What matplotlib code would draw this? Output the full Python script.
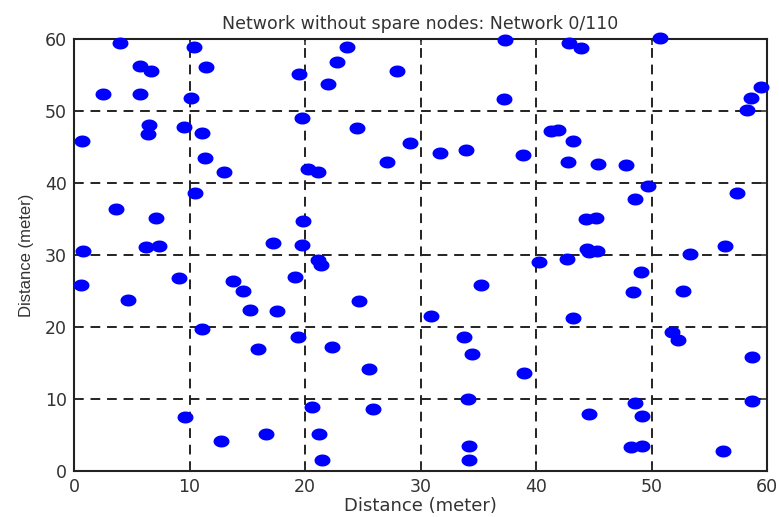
import numpy as np
import matplotlib
matplotlib.use('Agg')
import matplotlib.pyplot as plt
from matplotlib.path import Path

plt.rcParams['font.family'] = ['DejaVu Sans']

# node positions (meter)
x_nodes = [4.0, 5.7, 6.7, 2.5, 5.7, 10.4, 11.4, 10.1, 19.5, 23.6, 22.8, 22.0, 28.0, 19.7,
           0.7, 6.5, 6.4, 9.5, 11.1, 11.3, 13.0, 24.5, 29.1, 27.1, 20.3, 21.1, 10.5, 3.6,
           7.1, 19.8, 0.8, 6.25, 7.4, 17.2, 19.7, 21.1,
           21.35, 0.6, 4.7, 9.1, 13.8, 14.6, 15.2, 17.6, 19.1, 24.7, 11.1, 15.9, 19.4, 22.3,
           25.5, 9.6, 20.6, 25.9, 12.7, 16.6, 21.2, 21.5,
           37.3, 42.9, 43.9, 50.7, 37.2, 59.5, 58.6, 58.3, 31.7, 33.9, 38.9, 41.3, 41.9,
           43.2, 42.8, 45.4, 47.8, 49.7, 48.6, 57.4, 44.3, 45.2, 44.4, 44.6, 45.3, 40.3,
           42.7, 53.3, 56.4,
           35.2, 30.9, 43.2, 49.1, 48.4, 52.75, 51.8, 52.3, 58.7, 33.8, 34.5, 39.0, 34.1,
           58.7, 48.6, 49.2, 44.6, 34.2, 34.2, 48.2, 49.2, 56.2]
y_nodes = [59.5, 56.3, 55.6, 52.4, 52.4, 58.9, 56.1, 51.8, 55.2, 58.9, 56.8, 53.8, 55.6, 49.0,
           45.8, 48.1, 46.8, 47.8, 46.9, 43.5, 41.5, 47.6, 45.5, 42.9, 41.9, 41.5, 38.6, 36.4,
           35.1, 34.7, 30.5, 31.1, 31.3, 31.7, 31.4, 29.3,
           28.6, 25.9, 23.75, 26.8, 26.4, 25.0, 22.4, 22.2, 27.0, 23.6, 19.7, 16.9, 18.65, 17.2,
           14.1, 7.5, 8.9, 8.6, 4.2, 5.1, 5.1, 1.5,
           59.9, 59.5, 58.7, 60.2, 51.7, 53.3, 51.8, 50.1, 44.1, 44.6, 43.9, 47.2, 47.4,
           45.8, 42.9, 42.7, 42.5, 39.6, 37.8, 38.6, 35.0, 35.1, 30.9, 30.4, 30.6, 29.0,
           29.5, 30.2, 31.3,
           25.9, 21.5, 21.3, 27.6, 24.8, 25.0, 19.35, 18.2, 15.9, 18.65, 16.3, 13.6, 10.0,
           9.7, 9.4, 7.7, 7.9, 3.5, 1.5, 3.3, 3.5, 2.8]

titel = 'Network without spare nodes: Network 0/110'
x_oznaka = 'Distance (meter)'
y_oznaka = 'Distance (meter)'
kvacice = [0, 10, 20, 30, 40, 50, 60]

# slightly wide ellipse as marker (the reference dots are squashed)
t = np.linspace(0, 2 * np.pi, 40)
elipsa = Path(np.column_stack([1.33 * np.cos(t), np.sin(t)]), closed=True)

fig = plt.figure(figsize=(7.79, 5.17), dpi=100)
ax = fig.add_axes([0.095, 0.089, 0.8896, 0.8356])

ax.plot(x_nodes, y_nodes, linestyle='none', marker=elipsa, markersize=11.5,
        markeredgewidth=0, color='#0000ff', clip_on=False, zorder=3)

ax.set_xlim(0, 60)
ax.set_ylim(0, 60)
ax.set_xticks(kvacice)
ax.set_yticks(kvacice)
ax.grid(True, color='#222222', linestyle=(0, (5, 3.5)), linewidth=1.4)
ax.tick_params(direction='in', length=4, width=1.2, labelsize=12.5, colors='#333333',
               top=True, right=True, pad=5)

for s in ax.spines.values():
    s.set_linewidth(1.5)
    s.set_color('#222222')

ax.set_title(titel, fontsize=12.5, color='#333333', pad=7)
ax.set_xlabel(x_oznaka, fontsize=13, color='#333333', labelpad=1)
ax.set_ylabel(y_oznaka, fontsize=12, color='#333333', labelpad=8,
              family='Liberation Sans')

fig.savefig('out.png', dpi=100)
